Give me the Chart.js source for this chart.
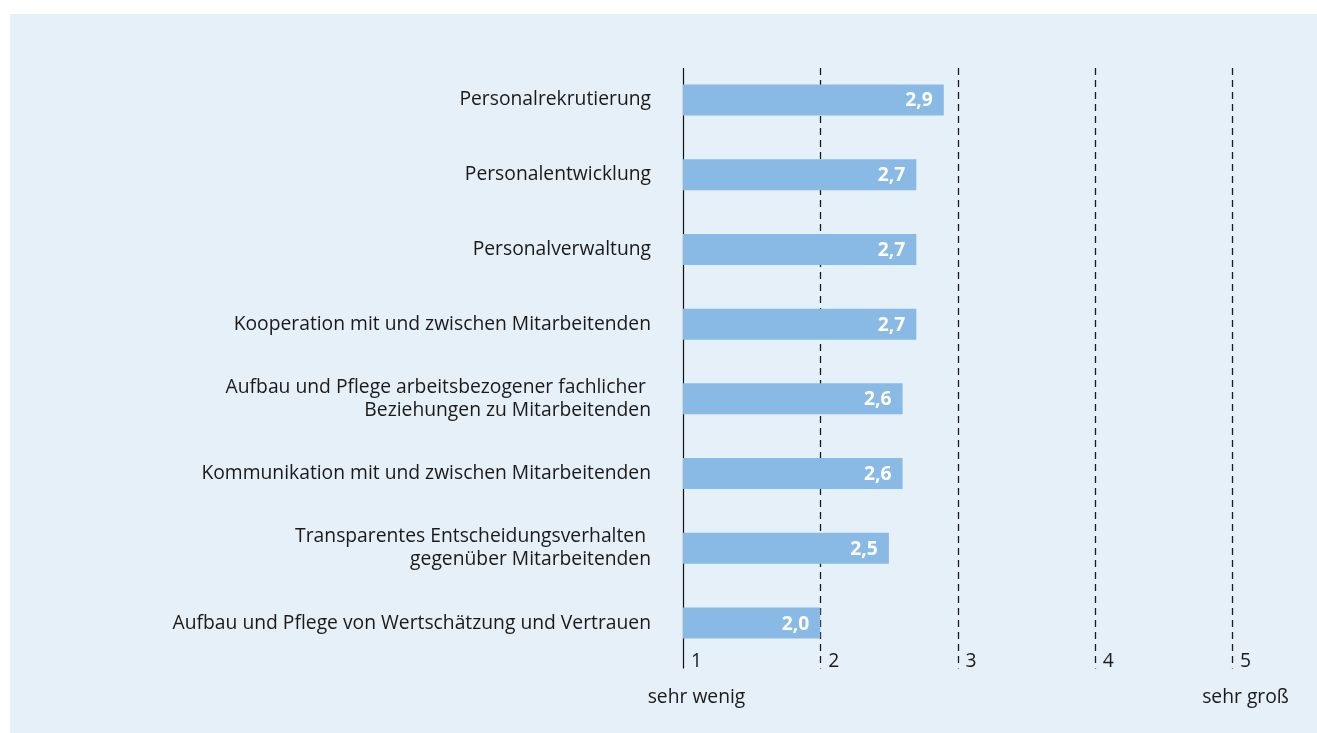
<!DOCTYPE html>
<html>
<head>
<meta charset="utf-8">
<script src="https://cdn.jsdelivr.net/npm/chart.js@4.4.1/dist/chart.umd.min.js"></script>
<style>
  html, body { margin: 0; padding: 0; background: #ffffff; }
  #panel { position: absolute; left: 10px; top: 14px; width: 1307px; height: 719px; background: #e6f0f9; }
  #wrap { position: absolute; left: 0; top: 0; width: 1317px; height: 733px; }
</style>
</head>
<body>
<div id="panel"></div>
<div id="wrap"><canvas id="c" width="1317" height="733"></canvas></div>
<script>
const categories = [
  "Personalrekrutierung",
  "Personalentwicklung",
  "Personalverwaltung",
  "Kooperation mit und zwischen Mitarbeitenden",
  ["Aufbau und Pflege arbeitsbezogener fachlicher ", "Beziehungen zu Mitarbeitenden"],
  "Kommunikation mit und zwischen Mitarbeitenden",
  ["Transparentes Entscheidungsverhalten ", "gegenüber Mitarbeitenden"],
  "Aufbau und Pflege von Wertschätzung und Vertrauen"
];
const values = [2.9, 2.7, 2.7, 2.7, 2.6, 2.6, 2.5, 2.0];
const tickValues = [1, 2, 3, 4, 5];
const tickLabels = ["1", "2", "3", "4", "5"];
const scaleEndLabels = ["sehr wenig", "sehr groß"];

const FONT = "'Open Sans', 'Noto Sans', sans-serif";
const TEXT = "#1a1a1a";
const FS = 19.3;

const gridPlugin = {
  id: 'gridPlugin',
  beforeDatasetsDraw(chart) {
    const ctx = chart.ctx, x = chart.scales.x, a = chart.chartArea;
    const y0 = a.top + 5.5, y1 = a.bottom + 8;
    ctx.save();
    tickValues.forEach((v, i) => {
      const px = Math.round(x.getPixelForValue(v)) + 0.5;
      ctx.beginPath();
      if (i === 0) { ctx.setLineDash([]); ctx.strokeStyle = '#111'; ctx.lineWidth = 1.2; }
      else { ctx.setLineDash([7, 5]); ctx.strokeStyle = '#1a1a1a'; ctx.lineWidth = 1.3; }
      ctx.moveTo(px, y0); ctx.lineTo(px, y1); ctx.stroke();
    });
    ctx.restore();
  },
  afterDatasetsDraw(chart) {
    const ctx = chart.ctx, x = chart.scales.x, a = chart.chartArea;
    ctx.save();
    const meta = chart.getDatasetMeta(0);
    ctx.font = "bold " + FS + "px " + FONT;
    ctx.fillStyle = '#ffffff';
    ctx.textAlign = 'right';
    ctx.textBaseline = 'middle';
    meta.data.forEach((bar, i) => {
      ctx.fillText(values[i].toFixed(1).replace('.', ','), bar.x - 11, bar.y + 1);
    });
    ctx.font = FS + "px " + FONT;
    ctx.fillStyle = TEXT;
    ctx.textAlign = 'left';
    const tickPos = [];
    tickValues.forEach((v, i) => {
      const px = x.getPixelForValue(v) + 8;
      ctx.fillText(tickLabels[i], px, a.bottom + 1);
      tickPos.push(px + ctx.measureText(tickLabels[i]).width / 2);
    });
    ctx.textAlign = 'center';
    ctx.fillText(scaleEndLabels[0], tickPos[0], a.bottom + 37);
    ctx.fillText(scaleEndLabels[1], tickPos[tickPos.length - 1], a.bottom + 37);
    ctx.restore();
  }
};

new Chart(document.getElementById('c'), {
  type: 'bar',
  data: {
    labels: categories,
    datasets: [{
      data: values,
      backgroundColor: '#89b9e5',
      borderWidth: 0,
      barPercentage: 0.415,
      categoryPercentage: 1.0
    }]
  },
  options: {
    indexAxis: 'y',
    responsive: false,
    animation: false,
    layout: { padding: { left: 0, right: 85, top: 62.6, bottom: 72.6 } },
    plugins: { legend: { display: false }, tooltip: { enabled: false } },
    scales: {
      x: { type: 'linear', min: 1, max: 5, display: false },
      y: {
        grid: { display: false, drawTicks: false },
        border: { display: false },
        ticks: {
          padding: 32,
          color: TEXT,
          font: { family: FONT, size: FS, lineHeight: 1.19 },
          crossAlign: 'near'
        },
        afterFit(scale) { scale.width = 683; }
      }
    }
  },
  plugins: [gridPlugin]
});
</script>
</body>
</html>
